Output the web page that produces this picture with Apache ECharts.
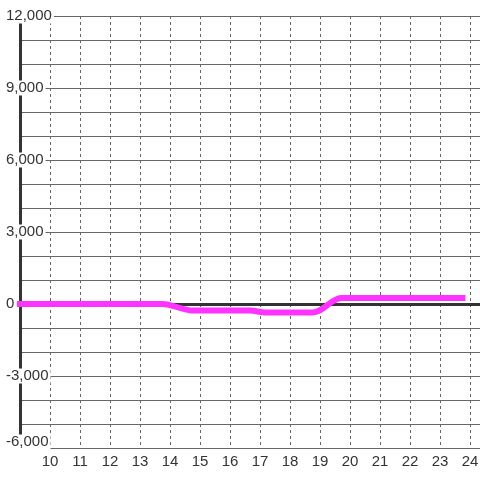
<!DOCTYPE html>
<html>
<head>
<meta charset="utf-8">
<script src="https://cdn.jsdelivr.net/npm/echarts@6/dist/echarts.min.js"></script>
<style>
html,body{margin:0;padding:0;background:#fff;}
#chart{width:480px;height:480px;}
</style>
</head>
<body>
<div id="chart"></div>
<script>
// Data
const hours  = [9, 13.75, 14.75, 16.67, 17.17, 18.75, 19.0, 19.7, 23.75];
const values = [0, 0, -270, -270, -350, -350, -260, 250, 250];
const xTickLabels = [10, 11, 12, 13, 14, 15, 16, 17, 18, 19, 20, 21, 22, 23, 24];
const yTickLabels = [-6000, -3000, 0, 3000, 6000, 9000, 12000];

const FONT = 'Liberation Sans';
const chart = echarts.init(document.getElementById('chart'), null, {renderer: 'canvas'});

const seriesData = hours.map((h, i) => [h, values[i]]);

const option = {
  animation: false,
  backgroundColor: '#fff',
  grid: {left: 20, top: 16, right: -5, bottom: 32, outerBoundsMode: 'none', containLabel: false},
  xAxis: [
    {
      type: 'value', min: 9, max: 24.5, interval: 1,
      axisLine: {show: false, onZero: false},
      axisTick: {show: false},
      axisLabel: {
        color: '#333', fontSize: 15, fontFamily: FONT, margin: 6,
        showMinLabel: false, showMaxLabel: false,
        formatter: v => xTickLabels.indexOf(v) >= 0 ? String(v) : ''
      },
      splitLine: {show: true, lineStyle: {color: '#666', width: 1, type: [3, 3]}}
    },
    {
      type: 'value', min: 9, max: 24.5, position: 'bottom',
      axisLine: {show: true, onZero: true, lineStyle: {color: '#333', width: 3}},
      axisTick: {show: false},
      axisLabel: {show: false},
      splitLine: {show: false}
    }
  ],
  yAxis: {
    type: 'value', min: -6000, max: 12000, interval: 1000,
    axisLine: {show: true, onZero: false, lineStyle: {color: '#333', width: 3}},
    axisTick: {show: false},
    splitLine: {show: true, lineStyle: {color: '#666', width: 1}},
    axisLabel: {
      align: 'left', margin: 14,
      formatter: v => {
        if (yTickLabels.indexOf(v) < 0) return '';
        const s = v.toLocaleString('en-US');
        return v === yTickLabels[0] ? '{m|' + s + '}' : '{a|' + s + '}';
      },
      rich: {
        a: {color: '#333', fontSize: 15, fontFamily: FONT, lineHeight: 15, backgroundColor: '#fff', padding: [0, 2, 0, 0]},
        m: {color: '#333', fontSize: 15, fontFamily: FONT, lineHeight: 15, backgroundColor: '#fff', padding: [0, 2, 12, 0]}
      }
    }
  },
  series: [{
    type: 'line',
    xAxisIndex: 0,
    data: seriesData,
    showSymbol: false,
    smooth: 0.3,
    z: 5,
    lineStyle: {color: '#ff33ff', width: 6, cap: 'square'}
  }]
};
chart.setOption(option);
</script>
</body>
</html>
